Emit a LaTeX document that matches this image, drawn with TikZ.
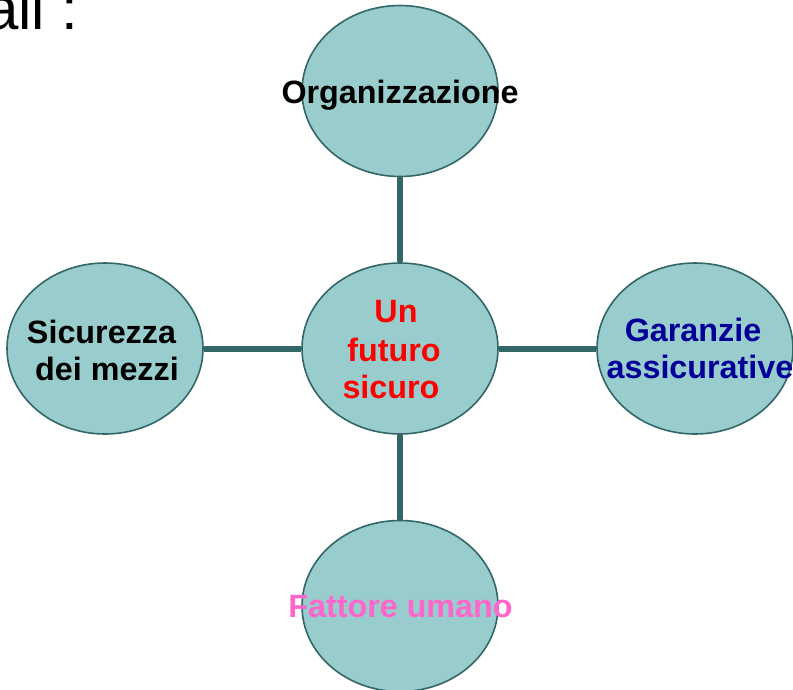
\documentclass[tikz,border=0pt]{standalone}
\usepackage{fontspec}
\setmainfont{Liberation Sans}
\usetikzlibrary{shapes.geometric}
\pgfdeclarelayer{links}
\pgfsetlayers{links,main}
\definecolor{bubblefill}{RGB}{153,204,204}
\definecolor{bubbleline}{RGB}{51,102,102}
\definecolor{txtred}{RGB}{255,0,0}
\definecolor{txtblue}{RGB}{0,0,153}
\definecolor{txtpink}{RGB}{255,102,204}
\tikzset{
  bubble/.style={ellipse, draw=bubbleline, line width=1.6pt, fill=bubblefill,
    minimum width=196pt, minimum height=171pt, inner sep=0pt},
  link/.style={draw=bubbleline, line width=6pt},
  lbl/.style={anchor=base, inner sep=0pt, font=\fontsize{32.3}{37}\selectfont\bfseries},
}
\begin{document}
\begin{tikzpicture}[x=1pt, y=-1pt]
\useasboundingbox (0,0) rectangle (793,689);
\node[bubble] (org) at (400,91) {};
\node[bubble] (ctr) at (400,348.5) {};
\node[bubble] (sic) at (105,348.5) {};
\node[bubble] (gar) at (695,348.5) {};
\node[bubble] (fat) at (400,606) {};
\begin{pgfonlayer}{links}
\path[link] (org) -- (ctr);
\path[link] (sic) -- (ctr);
\path[link] (ctr) -- (gar);
\path[link] (ctr) -- (fat);
\end{pgfonlayer}
% texts
\node[anchor=base west, inner sep=0pt, font=\fontsize{60}{70}\selectfont] (head) at (-15,29) {ali :};
\node[lbl] (t-org) at (400,103) {Organizzazione};
\node[lbl, text=txtred] (t-un) at (396,322) {Un};
\node[lbl, text=txtred] (t-fu) at (394,361.5) {futuro};
\node[lbl, text=txtred] (t-si) at (391,398) {sicuro};
\node[lbl] (t-sic1) at (101.5,343) {Sicurezza};
\node[lbl] (t-sic2) at (107,380) {dei mezzi};
\node[lbl, text=txtblue] (t-gar1) at (693,341.7) {Garanzie};
\node[lbl, text=txtblue] (t-gar2) at (700,378.3) {assicurative};
\node[lbl, text=txtpink] (t-fat) at (400.5,617) {Fattore umano};
\end{tikzpicture}
\end{document}
